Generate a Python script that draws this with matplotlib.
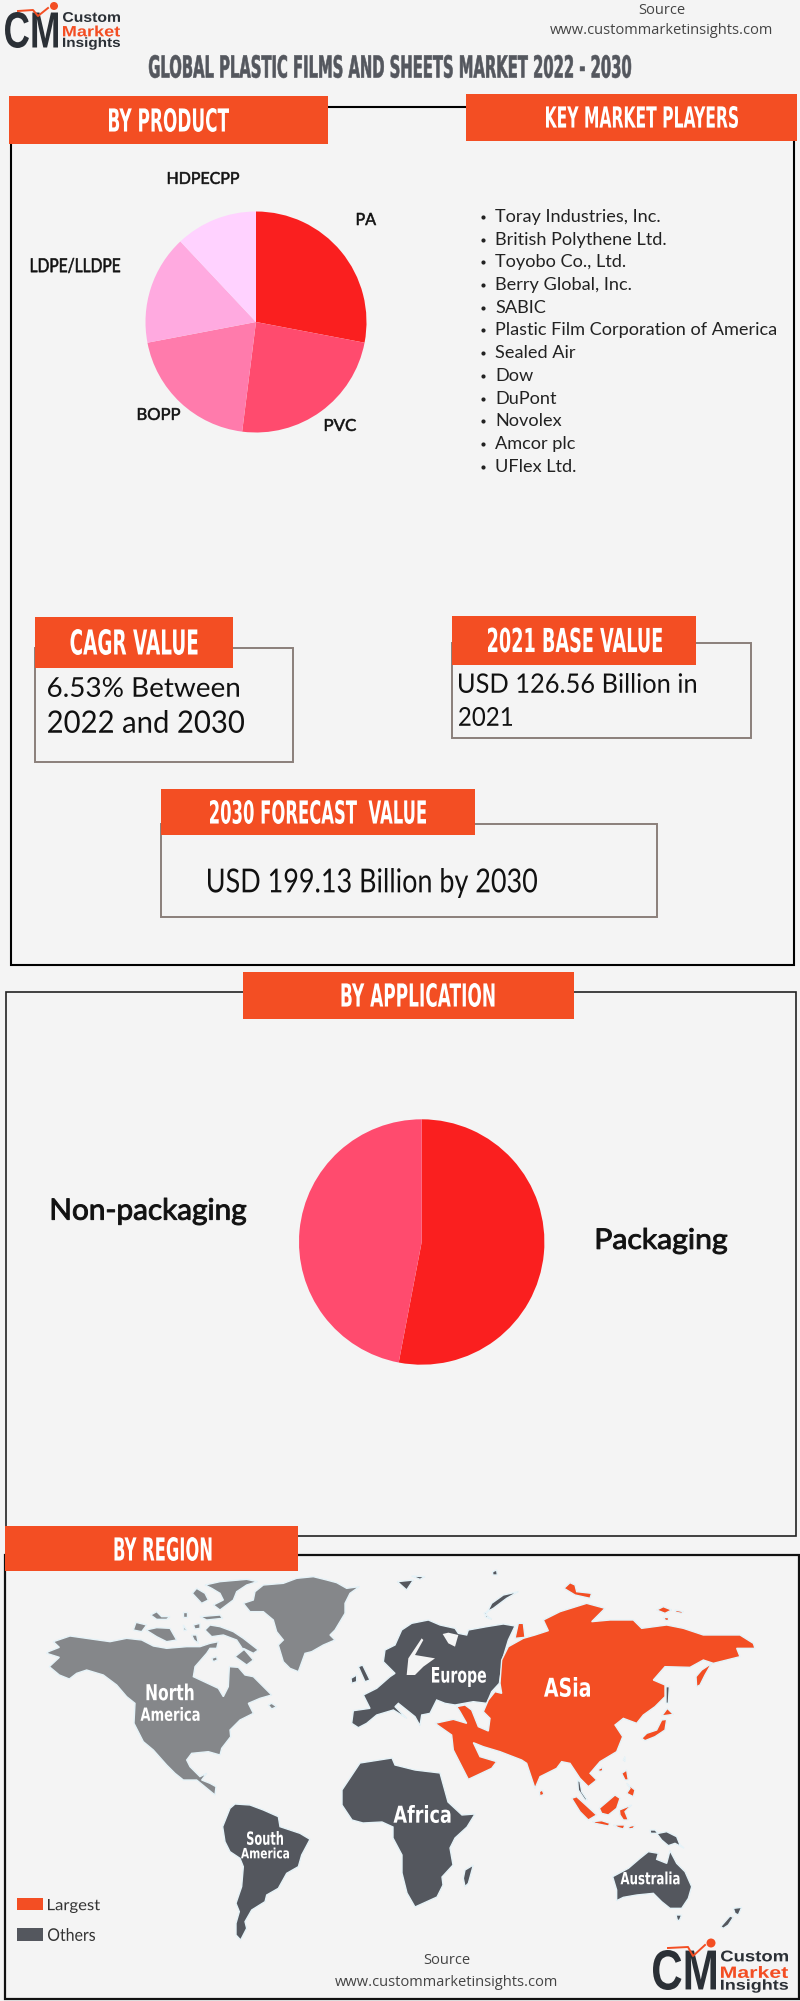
import matplotlib
matplotlib.use("Agg")
import matplotlib.pyplot as plt
import matplotlib.text as mtext
import matplotlib.colors as mcolors
from matplotlib.patches import Polygon, Rectangle, Circle
from matplotlib.textpath import TextPath
from matplotlib.transforms import Affine2D, Bbox

# ---------- data ----------
PRODUCT_LABELS = ["PA", "PVC", "BOPP", "LDPE/LLDPE", "HDPECPP"]
PRODUCT_SHARES = [28, 24, 20, 16, 12]
APPLICATION_LABELS = ["Packaging", "Non-packaging"]
APPLICATION_SHARES = [53, 47]
KEY_PLAYERS = ["Toray Industries, Inc.", "British Polythene Ltd.", "Toyobo Co., Ltd.",
               "Berry Global, Inc.", "SABIC", "Plastic Film Corporation of America",
               "Sealed Air", "Dow", "DuPont", "Novolex", "Amcor plc", "UFlex Ltd."]

# ---------- colours ----------
BG = "#F4F4F4"
ORANGE = "#F34E23"
SLATE = "#54575E"
MIDGREY = "#85878A"
FRAME = "#8B7F7A"
INK = "#111111"
LOGO = "#2B3036"
HALO = "#E6F3F8"
PRODUCT_COLORS = ["#FA1F1F", "#FF4B6E", "#FF7BAC", "#FFAAE0", "#FFD2FF"]
APPLICATION_COLORS = ["#FA1F1F", "#FF4B6E"]
HEAD = "Liberation Sans Narrow"


class FitText(mtext.Text):
    """Real text, drawn stretched to a given box (data coordinates)."""
    def __init__(self, box, text, stroke=0, **kw):
        self.box = box
        self.stroke = stroke
        x0, y0, x1, y1 = box
        super().__init__((x0 + x1) / 2, (y0 + y1) / 2, text, ha="center", va="center", **kw)

    def _corners(self):
        x0, y0, x1, y1 = self.box
        return self.axes.transData.transform([(x0, y1), (x1, y0)])

    def draw(self, renderer):
        if not self.get_visible():
            return
        tp = TextPath((0, 0), self.get_text(), size=100, prop=self.get_fontproperties())
        e = tp.get_extents()
        (a, b), (c, d) = self._corners()
        tr = Affine2D().translate(-e.x0, -e.y0).scale((c - a) / e.width, (d - b) / e.height).translate(a, b)
        col = mcolors.to_rgba(self.get_color())
        gc = renderer.new_gc()
        gc.set_antialiased(True)
        gc.set_foreground(col)
        gc.set_linewidth(self.stroke)
        renderer.draw_path(gc, tp, tr, rgbFace=col)
        gc.restore()
        self.stale = False

    def get_window_extent(self, renderer=None, dpi=None):
        (a, b), (c, d) = self._corners()
        return Bbox([[a, b], [c, d]])


fig = plt.figure(figsize=(8.0, 20.01), dpi=100, facecolor=BG)
ax = fig.add_axes([0, 0, 1, 1])
ax.set_xlim(0, 800)
ax.set_ylim(2001, 0)
ax.axis("off")


def fit(s, cx, cy, w, h, color=INK, family="Lato", weight="normal", z=6, stroke=0):
    t = FitText((cx - w / 2, cy - h / 2, cx + w / 2, cy + h / 2), s, stroke=stroke, color=color, family=family,
                weight=weight, fontsize=max(h * 0.72, 6), zorder=z)
    ax.add_artist(t)
    return t


def fitb(s, x0, y0, x1, y1, **kw):
    return fit(s, (x0 + x1) / 2, (y0 + y1) / 2, x1 - x0, y1 - y0, **kw)


def rect(x0, y0, x1, y1, fc="none", ec="none", lw=0, z=2):
    ax.add_patch(Rectangle((x0, y0), x1 - x0, y1 - y0, facecolor=fc, edgecolor=ec, linewidth=lw, zorder=z))


def heading(s, box, cx, cy, w, h):
    rect(*box, fc=ORANGE, z=4)
    fit(s, cx, cy, w, h, color="white", family=HEAD, weight="bold")


# ---------- frames ----------
rect(10.5, 107, 794, 965, ec="black", lw=1.5)
rect(6, 992, 796, 1536, ec="#222222", lw=1.2)
rect(5, 1555, 798.5, 1999, ec="#111111", lw=1.6)
rect(35, 648, 293, 762, ec=FRAME, lw=1.4)
rect(452, 643, 751, 738, ec=FRAME, lw=1.4)
rect(161, 824, 657, 917, ec=FRAME, lw=1.4)

# ---------- headings ----------
heading("BY PRODUCT", (9, 96, 328, 144), 169, 120, 120, 24)
heading("KEY MARKET PLAYERS", (466, 94, 797, 141), 642, 117, 192, 22)
heading("CAGR VALUE", (35, 617, 233, 668), 134, 642, 127, 26)
heading("2021 BASE VALUE", (452, 616, 696, 665), 575, 640, 174, 25)
heading("2030 FORECAST  VALUE", (161, 789, 475, 835), 318, 812, 216, 24)
heading("BY APPLICATION", (243, 972, 574, 1019), 418, 995, 153, 24)
heading("BY REGION", (5, 1526, 298, 1571), 163, 1549, 97, 24)

fitb("GLOBAL PLASTIC FILMS AND SHEETS MARKET 2022 - 2030", 149, 55, 631, 78,
     color=SLATE, family=HEAD, weight="bold", stroke=0.4)

# ---------- value texts ----------
fitb("6.53% Between", 48, 677, 239, 697)
fitb("2022 and 2030", 48, 710, 244, 733)
fitb("USD 126.56 Billion in", 459, 673, 696, 693)
fitb("2021", 459, 707, 512, 726)
fitb("USD 199.13 Billion by 2030", 208, 868, 537, 898)

# ---------- key players ----------
for i, name in enumerate(KEY_PLAYERS):
    y = 217 + i * 22.7
    ax.scatter([483], [y], s=9, color="#222222", zorder=6, linewidths=0)
    ax.text(495, y, name, fontsize=13.1, family="Lato", color="#222222", va="center", ha="left", zorder=6)

# ---------- pies ----------
def pie(values, colors, cx, cy, r):
    pa = fig.add_axes([(cx - r) / 800, 1 - (cy + r) / 2001, 2 * r / 800, 2 * r / 2001])
    pa.pie(values, colors=colors, startangle=90, counterclock=False, radius=1,
           wedgeprops=dict(linewidth=0))
    pa.set_xlim(-1, 1)
    pa.set_ylim(-1, 1)
    pa.set_aspect("auto")
    pa.patch.set_alpha(0)
    return pa


pie(PRODUCT_SHARES, PRODUCT_COLORS, 256, 322, 110.5)
pie(APPLICATION_SHARES, APPLICATION_COLORS, 421.7, 1242, 122.7)

PRODUCT_LABEL_BOXES = [(357, 213, 376, 225), (325, 419, 356, 431), (138, 408, 180, 420),
                       (31, 258, 120, 273), (168, 172, 239, 184)]
for s, b in zip(PRODUCT_LABELS, PRODUCT_LABEL_BOXES):
    fitb(s, *b, stroke=0.4)

fitb(APPLICATION_LABELS[0], 597, 1228, 727, 1254, stroke=0.7)
fitb(APPLICATION_LABELS[1], 52, 1198, 246, 1225, stroke=0.7)

# ---------- header / footer source ----------
for cx, y1, y2 in [(662, 10, 31), (447, 1961, 1982)]:
    ax.text(cx, y1, "Source", fontsize=10.5, family="Open Sans", color="#444444", ha="center", va="center", zorder=6)
    ax.text(cx, y2, "www.custommarketinsights.com", fontsize=10.5, family="Open Sans", color="#444444",
            ha="center", va="center", zorder=6)


# ---------- logos ----------
def logo(x0, y0, x1, y1, tx0, tx1, rows, dot, spark, dot_r):
    fitb("CM", x0, y0, x1, y1, color=LOGO, family="Liberation Sans", weight="bold")
    ax.plot(*zip(*spark), color=ORANGE, lw=1.4, zorder=7)
    ax.add_patch(Circle(dot, dot_r, fc=ORANGE, ec="none", zorder=7))
    for s, cy, col, h in rows:
        fit(s, (tx0 + tx1) / 2, cy, tx1 - tx0, h, color=col, family="Liberation Sans", weight="bold")


logo(5, 12, 58, 48, 63, 120, [("Custom", 17, LOGO, 10), ("Market", 31, ORANGE, 11), ("Insights", 43.5, LOGO, 12.5)],
     (54, 6), [(18, 11), (33, 10), (38, 16), (48, 8)], 4)
logo(653, 1950, 716, 1990, 721, 788, [("Custom", 1956, LOGO, 11), ("Market", 1972, ORANGE, 12), ("Insights", 1986, LOGO, 13.5)],
     (711, 1943), [(668, 1948), (688, 1947), (693, 1956), (705, 1945)], 4.5)

# ---------- legend ----------
rect(17, 1898, 43, 1910, fc=ORANGE, z=5)
rect(17, 1928, 43, 1941, fc=SLATE, z=5)
fitb("Largest", 48, 1899, 100, 1913, color="#333333")
fitb("Others", 48, 1928, 95, 1941, color="#333333")

# ---------- map (backdrop shapes, not data) ----------
A = (20, 1560)    # origin of outlines traced at 3x, western part
B = (340, 1560)   # eastern part
C = (200, 1780)   # southern part
D = (560, 1780)   # south-east part

NA_SHAPES = [
    (A, [(80,280),(118,292),(88,320),(118,345),(148,357),(170,340),(200,330),(250,345),(290,375),(320,410),(345,430),
         (342,490),(370,545),(400,570),(440,615),(465,640),(490,660),(530,660),(585,705),(588,680),(570,670),(545,660),
         (560,640),(540,650),(510,620),(500,600),(515,580),(565,575),(600,585),(605,565),(632,530),(630,510),(660,480),
         (700,460),(685,430),(720,415),(755,405),(720,370),(700,350),(675,345),(655,322),(628,320),(625,380),(610,410),
         (595,385),(520,350),(525,320),(560,280),(570,265),(590,265),(595,245),(570,250),(540,260),(500,260),(440,265),
         (400,258),(365,240),(320,235),(270,245),(220,238),(150,228),(100,245),(118,262),(85,275)]),
    (A, [(555,210),(570,195),(600,200),(640,215),(670,235),(715,270),(700,280),(670,265),(700,300),(680,315),(645,290),
         (670,270),(650,240),(610,225),(575,230)]),
    (A, [(340,210),(348,187),(380,195),(365,215)]),
    (A, [(378,210),(410,203),(450,205),(470,240),(440,245),(410,230)]),
    (A, [(392,165),(410,155),(425,170),(450,170),(440,178),(410,178)]),
    (A, [(488,155),(500,155),(500,170),(490,170)]),
    (A, [(520,195),(540,190),(540,205),(525,207)]),
    (A, [(490,195),(500,210),(492,212)]),
    (A, [(515,225),(530,225),(535,250),(522,240)]),
    (A, [(540,170),(600,165),(608,175),(560,180)]),
    (A, [(555,75),(600,65),(680,58),(712,65),(680,75),(650,95),(640,120),(600,150),(580,135),(610,120),(600,100),(575,85)]),
    (A, [(517,100),(530,85),(555,100),(565,120),(545,130)]),
    (A, [(575,295),(590,290),(592,300),(580,305)]),
    (A, [(745,435),(755,430),(770,440),(755,447)]),
    (A, [(670,130),(700,120),(705,95),(730,75),(790,70),(830,55),(880,50),(920,60),(950,68),(980,85),(1018,80),(990,100),
         (975,130),(975,160),(960,185),(945,210),(930,225),(945,240),(910,255),(875,275),(855,280),(835,335),(810,325),
         (790,305),(775,255),(790,240),(770,215),(760,180),(730,155),(690,155)]),
]

OTHER_SHAPES = [
    (B, [(35,490),(40,452),(90,445),(70,405),(110,385),(150,350),(165,340),(130,305),(135,270),(165,255),(185,210),(215,190),
         (265,180),(300,195),(345,205),(355,220),(380,225),(385,210),(440,200),(490,192),(525,198),(505,240),(490,290),
         (478,370),(455,395),(440,430),(400,425),(345,435),(315,430),(290,420),(270,460),(245,465),(240,497),(225,470),
         (175,430),(165,440),(200,475),(160,450),(110,465),(80,490),(55,503)]),
    (B, [(55,320),(68,315),(90,360),(75,365)]),
    (B, [(33,355),(50,345),(50,365),(35,370)]),
    (B, [(172,65),(220,60),(200,90)]),
    (B, [(215,48),(255,50),(240,58)]),
    (B, [(458,35),(470,30),(472,45),(458,45)]),
    (B, [(455,130),(490,105),(535,95),(500,115),(460,145),(432,160),(455,178),(435,170)]),
    (B, [(978,380),(988,380),(985,430),(978,430)]),
    (B, [(713,660),(720,665),(725,695),(742,720),(735,720),(715,690)]),
    ((0, 0), [(342,1790),(360,1763),(392,1758),(395,1765),(415,1770),(440,1773),(448,1802),(462,1815),(475,1814),(467,1827),
              (455,1838),(450,1848),(453,1865),(442,1877),(443,1885),(437,1897),(415,1907),(407,1893),(402,1873),(402,1855),
              (393,1838),(393,1827),(382,1822),(363,1823),(352,1820),(342,1805),(342,1793)]),
    (C, [(795,270),(820,255),(805,310),(795,320),(790,295)]),
    (C, [(90,85),(105,72),(150,75),(190,90),(235,110),(240,140),(300,160),(330,178),(305,225),(295,260),(260,280),(235,325),
         (200,345),(195,365),(155,390),(135,425),(140,445),(122,480),(108,465),(108,430),(118,395),(108,370),(125,320),
         (130,260),(120,235),(90,215),(75,185),(68,140)]),
    (D, [(270,150),(285,150),(295,160),(320,155),(350,170),(360,195),(372,204),(345,190),(325,197),(305,180),(290,160),(272,160)]),
    (D, [(158,290),(205,265),(240,235),(265,215),(295,220),(290,238),(320,250),(330,212),(350,250),(375,275),(395,320),
         (385,355),(365,385),(330,385),(305,365),(280,340),(230,345),(190,352),(170,362),(170,330)]),
    (D, [(348,405),(365,405),(358,422),(352,420)]),
    (D, [(520,385),(545,382),(535,405),(525,400)]),
    (D, [(482,440),(510,408),(520,412),(505,435),(490,445)]),
]

ASIA_SHAPES = [
    (B, [(285,490),(340,478),(380,490),(360,455),(350,440),(375,435),(395,450),(415,500),(445,513),(450,475),(430,455),
         (445,420),(465,395),(485,400),(480,370),(485,300),(505,260),(550,235),(585,225),(625,212),(610,180),(660,155),
         (740,130),(795,145),(755,185),(810,180),(880,180),(905,205),(980,195),(1030,205),(1090,225),(1200,225),(1240,250),
         (1245,265),(1190,265),(1200,290),(1120,310),(1090,300),(1050,322),(975,320),(940,360),(975,375),(975,410),(945,440),
         (910,465),(890,490),(850,475),(825,495),(848,530),(830,575),(780,605),(750,640),(770,660),(745,680),(720,655),
         (690,610),(665,605),(650,625),(600,650),(585,685),(560,610),(545,600),(480,575),(430,560),(400,548),(420,590),
         (470,605),(455,625),(385,658),(340,570),(335,525)]),
    (B, [(525,235),(535,190),(550,190),(555,232)]),
    (B, [(672,85),(690,68),(705,75),(710,95),(755,100),(750,115),(705,105)]),
    (B, [(950,150),(970,140),(995,150),(975,160)]),
    (B, [(1005,150),(1030,155),(1025,160),(1008,157)]),
    (B, [(970,170),(985,170),(985,180),(975,180)]),
    (B, [(1068,350),(1085,330),(1115,310),(1095,345),(1080,375),(1070,380)]),
    (B, [(965,468),(982,445),(1000,463)]),
    (B, [(905,535),(920,520),(950,510),(965,480),(980,478),(975,510),(945,530),(915,542)]),
    (B, [(598,695),(607,690),(612,703),(600,708)]),
    (B, [(775,628),(788,622),(788,632),(778,635)]),
    (B, [(845,640),(860,630),(865,660),(855,660)]),
    (B, [(850,600),(855,590),(855,605)]),
    (B, [(860,670),(885,690),(880,710),(860,700),(870,685)]),
    (D, [(35,55),(50,50),(110,105),(85,120),(60,95)]),
    (D, [(118,85),(165,45),(180,55),(170,85),(145,105),(125,100)]),
    (D, [(178,90),(215,75),(195,95),(205,120),(190,120),(180,105)]),
    (D, [(98,125),(125,122),(150,130),(145,138),(105,130)]),
    (D, [(160,135),(195,135),(190,147),(175,143)]),
    (D, [(205,140),(225,135),(220,145),(208,147)]),
]

SEA_SHAPES = [
    (B, [(200,345),(205,295),(245,235),(250,240),(225,285),(285,295),(250,320),(225,345)]),
    (B, [(308,222),(325,218),(355,225),(345,260),(325,250)]),
    (B, [(565,195),(575,200),(590,225),(570,225)]),
]


def draw_shapes(shapes, color, z, edge="none"):
    for (ox, oy), pts in shapes:
        sc = 1 if (ox, oy) == (0, 0) else 3
        ax.add_patch(Polygon([(ox + x / sc, oy + y / sc) for x, y in pts], closed=True, fc=color,
                             ec=edge, linewidth=1.0 if edge != "none" else 0, zorder=z))


draw_shapes(NA_SHAPES, MIDGREY, 3, HALO)
draw_shapes(OTHER_SHAPES, SLATE, 3, HALO)
draw_shapes(ASIA_SHAPES, ORANGE, 3, HALO)
draw_shapes(SEA_SHAPES, BG, 3.1)

for s, cx, cy, w, h in [("North", 170, 1692, 47, 17), ("America", 170, 1714, 59, 14), ("Europe", 459, 1677, 54, 20),
                        ("ASia", 567, 1687, 46, 20), ("Africa", 422, 1814, 57, 18), ("South", 265, 1838, 36, 14),
                        ("America", 265, 1853, 48, 11), ("Australia", 650, 1878, 59, 13)]:
    fit(s, cx, cy, w, h, color="white", family="DejaVu Sans", weight="bold")

fig.savefig("out.png", dpi=100, facecolor=BG)
